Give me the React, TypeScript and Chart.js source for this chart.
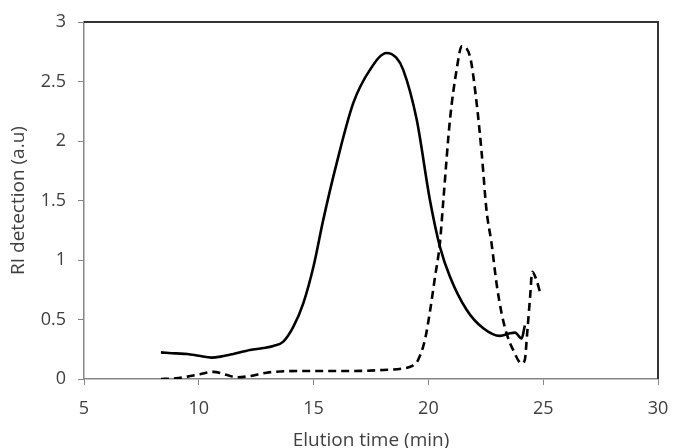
import React, { useEffect, useRef } from "react";
import { Chart, registerables } from "chart.js";

Chart.register(...registerables);

const solidTime = [8.35, 9.0, 9.5, 10.0, 10.56, 11.0, 11.5, 12.23, 12.8, 13.25, 13.68, 14.12, 14.55, 15.0, 15.42, 16.0, 16.73, 17.46, 18.18, 18.6, 18.9, 19.49, 20.07, 20.5, 20.94, 21.67, 22.39, 23.12, 23.55, 23.77, 24.06, 24.2];
const solidValue = [0.224, 0.215, 0.21, 0.195, 0.18, 0.19, 0.21, 0.244, 0.26, 0.278, 0.314, 0.44, 0.636, 0.95, 1.337, 1.81, 2.32, 2.6, 2.74, 2.7, 2.6, 2.18, 1.5, 1.113, 0.86, 0.58, 0.426, 0.362, 0.384, 0.39, 0.34, 0.45];

const dashedTime = [8.35, 9.0, 9.5, 10.05, 10.63, 11.2, 11.65, 12.23, 12.95, 14.41, 16.59, 18.04, 18.92, 19.3, 19.55, 19.85, 20.07, 20.29, 20.5, 20.65, 20.94, 21.23, 21.45, 21.81, 22.1, 22.32, 22.53, 22.75, 22.97, 23.19, 23.41, 23.7, 24.06, 24.2, 24.3, 24.43, 24.52, 24.71, 24.86];
const dashedValue = [0, 0.005, 0.02, 0.04, 0.06, 0.035, 0.014, 0.025, 0.053, 0.067, 0.067, 0.076, 0.09, 0.11, 0.16, 0.33, 0.57, 0.86, 1.14, 1.5, 2.18, 2.6, 2.795, 2.71, 2.32, 1.9, 1.42, 1.14, 0.8, 0.55, 0.38, 0.24, 0.13, 0.16, 0.38, 0.69, 0.9, 0.83, 0.73];

const xTitle = "Elution time (min)";
const yTitle = "RI detection (a.u)";

const FONT = "'Open Sans', 'Liberation Sans', sans-serif";

const frame = {
  id: "frame",
  afterDatasetsDraw(chart: any) {
    const { ctx, chartArea } = chart;
    ctx.save();
    ctx.strokeStyle = "#333333";
    ctx.lineWidth = 2;
    ctx.beginPath();
    ctx.moveTo(chartArea.left, chartArea.top);
    ctx.lineTo(chartArea.right, chartArea.top);
    ctx.lineTo(chartArea.right, chartArea.bottom);
    ctx.stroke();
    ctx.restore();
  },
};

export default function App() {
  const ref = useRef<HTMLCanvasElement>(null);
  useEffect(() => {
    document.body.style.margin = "0";
    const toPts = (xs: number[], ys: number[]) => xs.map((x, i) => ({ x, y: ys[i] }));
    const chart = new Chart(ref.current!, {
      type: "scatter",
      data: {
        datasets: [
          {
            data: toPts(solidTime, solidValue),
            showLine: true,
            borderColor: "#000",
            borderWidth: 2.6,
            pointRadius: 0,
            cubicInterpolationMode: "monotone",
          },
          {
            data: toPts(dashedTime, dashedValue),
            showLine: true,
            borderColor: "#000",
            borderWidth: 2.6,
            borderDash: [8, 5],
            pointRadius: 0,
            cubicInterpolationMode: "monotone",
          },
        ],
      },
      options: {
        responsive: false,
        animation: false,
        layout: { padding: { top: 22, right: 15, left: 0, bottom: 0 } },
        plugins: { legend: { display: false }, tooltip: { enabled: false } },
        scales: {
          x: {
            type: "linear",
            min: 5,
            max: 30,
            ticks: { stepSize: 5, color: "#404040", font: { family: FONT, size: 18 }, padding: 13, maxRotation: 0 },
            grid: { display: true, drawOnChartArea: false, drawTicks: true, tickLength: 6, color: "#868686" },
            border: { color: "#868686", width: 1.5 },
            title: { display: true, text: xTitle, color: "#404040", font: { family: FONT, size: 19 }, padding: { top: 0, bottom: -4 } },
            afterFit(scale: any) {
              scale.height = 69;
              scale.paddingLeft = 0;
              scale.paddingRight = 0;
            },
          },
          y: {
            type: "linear",
            min: 0,
            max: 3,
            ticks: { stepSize: 0.5, color: "#404040", font: { family: FONT, size: 18 }, padding: 12, callback: (v: any) => String(v) },
            grid: { display: true, drawOnChartArea: false, drawTicks: true, tickLength: 6, color: "#868686" },
            border: { color: "#868686", width: 1.5 },
            title: { display: true, text: yTitle, color: "#404040", font: { family: FONT, size: 19 }, padding: { top: 7, bottom: 0 } },
            afterFit(scale: any) {
              scale.width = 84;
              scale.paddingTop = 0;
              scale.paddingBottom = 0;
            },
          },
        },
      },
      plugins: [frame],
    });
    return () => chart.destroy();
  }, []);
  return <canvas ref={ref} width={673} height={448} style={{ display: "block" }} />;
}
